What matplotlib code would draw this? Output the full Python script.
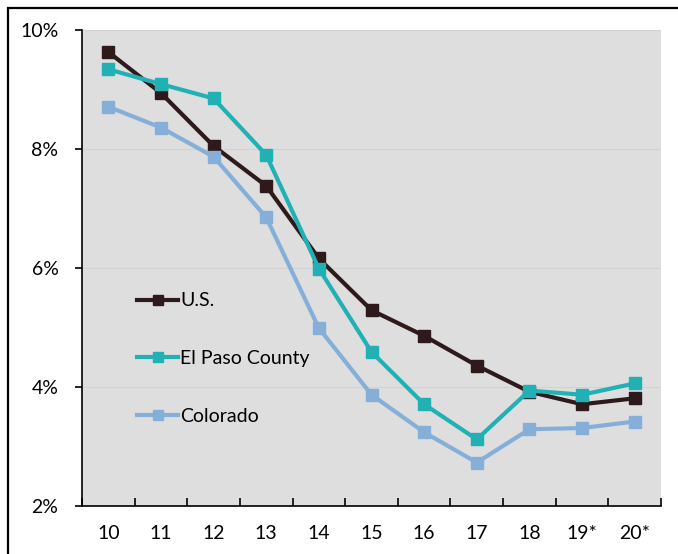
import matplotlib
matplotlib.use("Agg")
import matplotlib.pyplot as plt
from matplotlib.patches import Rectangle

# unemployment rate (%)
years = ["10", "11", "12", "13", "14", "15", "16", "17", "18", "19*", "20*"]
us = [9.63, 8.94, 8.05, 7.38, 6.16, 5.29, 4.86, 4.36, 3.92, 3.71, 3.81]
el_paso = [9.34, 9.09, 8.85, 7.90, 5.99, 4.59, 3.71, 3.12, 3.94, 3.87, 4.06]
colorado = [8.71, 8.36, 7.87, 6.85, 4.99, 3.87, 3.24, 2.73, 3.29, 3.31, 3.42]

series = [
    ("U.S.", us, "#2e191b"),
    ("El Paso County", el_paso, "#21b1b4"),
    ("Colorado", colorado, "#85afd9"),
]

plt.rcParams["font.family"] = ["Lato", "DejaVu Sans"]
fs = 14

fig = plt.figure(figsize=(6.78, 5.54), dpi=100)
ax = fig.add_axes([82 / 678, 1 - 506 / 554, (661 - 82) / 678, (506 - 30) / 554])
ax.set_facecolor("#dedede")

x = list(range(len(years)))
for name, vals, col in series:
    ax.plot(x, vals, color=col, lw=3, marker="s", markersize=8.5,
            label=name, solid_joinstyle="miter")

ax.set_xlim(-0.5, len(years) - 0.5)
ax.set_ylim(2, 10)
ax.set_yticks([2, 4, 6, 8, 10])
ax.set_yticklabels(["2%", "4%", "6%", "8%", "10%"], fontsize=fs)
ax.set_xticks([i - 0.5 for i in range(len(years) + 1)])
ax.set_xticklabels([])
ax.set_xticks(x, minor=True)
ax.set_xticklabels(years, minor=True, fontsize=fs)
ax.tick_params(axis="x", which="major", direction="in", length=6, width=1.2)
ax.tick_params(axis="x", which="minor", length=0, pad=14)
ax.tick_params(axis="y", direction="out", length=5, width=1.2, pad=12)

ax.grid(axis="y", color="#d2d2d2", lw=0.8)
ax.set_axisbelow(True)
for s in ["top", "right"]:
    ax.spines[s].set_visible(False)
ax.spines["left"].set_linewidth(1.2)
ax.spines["bottom"].set_linewidth(1.2)

ax.legend(loc="upper left", bbox_to_anchor=(0.082, 0.465), frameon=False,
          fontsize=fs, handlelength=2.1, handletextpad=0.1,
          labelspacing=2.1, borderaxespad=0, markerscale=0.85)

# outer frame, cut off at right and bottom
fig.add_artist(Rectangle((8 / 678, -0.1), 1.2, 1.1 - 8 / 554,
                         transform=fig.transFigure, fill=False,
                         edgecolor="black", lw=1.6))

fig.savefig("out.png", dpi=100)
